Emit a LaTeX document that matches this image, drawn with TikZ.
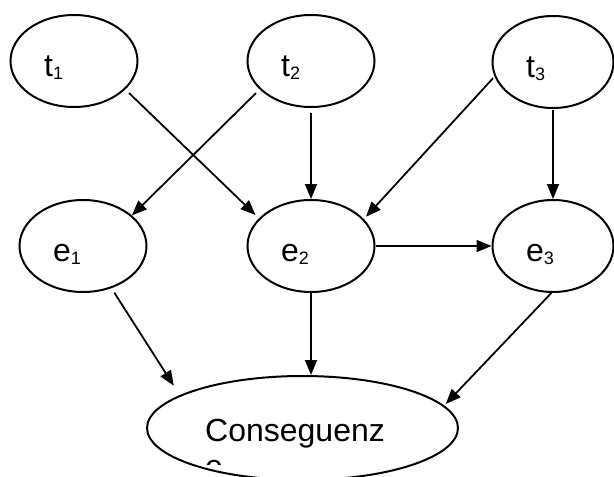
\documentclass[tikz,border=0pt]{standalone}
\usepackage{fontspec}
\setmainfont{Liberation Sans}
\usetikzlibrary{shapes.geometric,arrows.meta,calc}
\newcommand\sbs[1]{\raisebox{-3pt}{\fontsize{18}{18}\selectfont #1}}
\begin{document}
\begin{tikzpicture}[x=1pt,y=-1pt,
  oval/.style={draw, ellipse, line width=2pt, inner sep=0pt, minimum width=127pt, minimum height=92pt},
  lbl/.style={anchor=base west, inner sep=0pt, font=\fontsize{32}{36}\selectfont},
  arr/.style={line width=1.8pt, -{Triangle[length=15pt,width=12pt]}}]
\clip (0,0) rectangle (614,477);
\fill[white] (0,0) rectangle (614,477);
\node[oval] (t1) at (74,61) {};
\node[oval] (t2) at (311,61) {};
\node[oval, minimum width=121pt] (t3) at (553,62) {};
\node[oval] (e1) at (83,246) {};
\node[oval] (e2) at (311,246) {};
\node[oval, minimum width=121pt] (e3) at (553,246) {};
\node[oval, minimum width=311pt, minimum height=104pt] (c) at (302.5,428) {};
\node[lbl] (t1l) at ($(t1.west)+(34.5,15)$) {t\sbs{1}};
\node[lbl] (t2l) at ($(t2.west)+(34.5,15)$) {t\sbs{2}};
\node[lbl] (t3l) at ($(t3.west)+(34.5,15)$) {t\sbs{3}};
\node[lbl] (e1l) at ($(e1.west)+(34.5,15)$) {e\sbs{1}};
\node[lbl] (e2l) at ($(e2.west)+(34.5,15)$) {e\sbs{2}};
\node[lbl] (e3l) at ($(e3.west)+(34.5,15)$) {e\sbs{3}};
\begin{scope}
\clip (0,0) rectangle (614,464);
\node[lbl] (cl) at (205,441) {Conseguenz};
\node[lbl] (cl2) at (205,477) {e};
\end{scope}
\draw[arr, shorten <=5.2pt, shorten >=4.7pt] (t1.-29.2) -- (e2.152.6);
\draw[arr, shorten <=5.2pt] (t2.209.2) -- (e1.32.5);
\draw[arr, shorten <=5pt] (t2.south) -- (e2.north);
\draw[arr, shorten <=2.2pt, shorten >=3.2pt] (t3.194.1) -- (e2.27.2);
\draw[arr, shorten <=1pt] (t3.south) -- (e3.north);
\draw[arr] (e2.east) -- (e3.west);
\draw[arr, shorten <=5.3pt, shorten >=11.2pt] (e1.-56.1) -- (c.165.9);
\draw[arr] (e2.south) -- (e2.south |- c.north);
\draw[arr, shorten >=2.3pt] (e3.-92.5) -- (c.9.5);
\end{tikzpicture}
\end{document}
